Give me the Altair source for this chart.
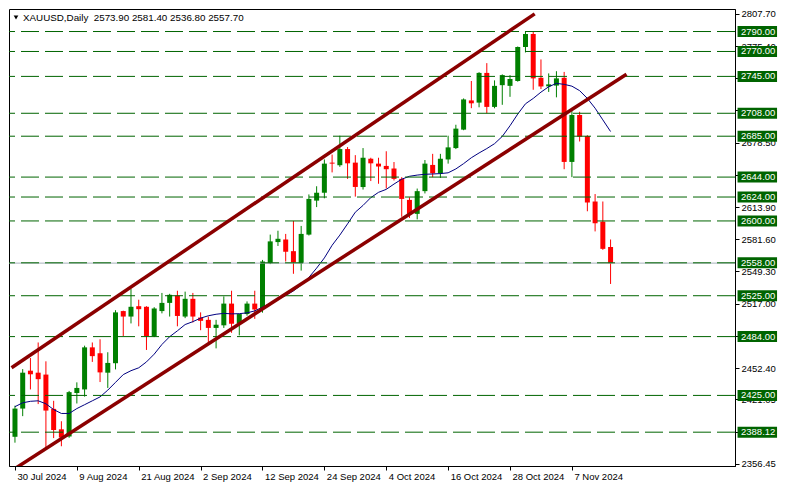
import altair as alt
import pandas as pd

# ---------------- data ----------------
opens = [2383.5, 2411.8, 2449.8, 2447.8, 2445.9, 2411.5, 2391.0, 2383.8, 2427.4, 2431.0,
         2473.2, 2467.3, 2447.8, 2457.3, 2509.6, 2504.1, 2514.5, 2513.9, 2484.6, 2509.6,
         2517.8, 2525.2, 2504.1, 2521.9, 2503.1, 2500.8, 2492.7, 2495.3, 2517.1, 2497.6,
         2506.6, 2517.1, 2511.9, 2557.7, 2578.8, 2581.4, 2569.7, 2557.7, 2586.3, 2620.4,
         2628.3, 2658.5, 2655.9, 2672.1, 2658.5, 2634.0, 2662.4, 2657.5, 2655.2, 2652.6,
         2642.2, 2621.1, 2607.1, 2629.9, 2656.2, 2647.8, 2661.7, 2673.1, 2691.6, 2720.9,
         2718.7, 2748.5, 2714.4, 2736.2, 2735.5, 2740.4, 2774.5, 2787.5, 2743.6, 2735.0,
         2735.8, 2743.6, 2659.2, 2706.3, 2685.1, 2619.5, 2599.3, 2573.9]
highs = [2414.7, 2451.4, 2462.5, 2478.1, 2459.2, 2419.6, 2399.1, 2429.5, 2438.1, 2474.9,
         2478.1, 2481.3, 2468.3, 2510.5, 2510.0, 2531.7, 2521.0, 2514.5, 2513.5, 2527.8,
         2526.9, 2530.0, 2529.1, 2527.8, 2508.3, 2504.1, 2500.8, 2524.3, 2530.0, 2506.6,
         2519.3, 2530.0, 2560.9, 2586.3, 2590.2, 2587.0, 2600.0, 2595.0, 2626.6, 2634.8,
         2661.7, 2666.6, 2685.5, 2674.1, 2666.0, 2673.1, 2663.4, 2663.4, 2669.9, 2659.1,
         2643.9, 2623.7, 2632.5, 2661.1, 2667.3, 2667.3, 2685.5, 2696.5, 2722.9, 2740.4,
         2749.2, 2758.3, 2741.0, 2747.0, 2746.3, 2775.0, 2790.1, 2790.0, 2762.0, 2748.0,
         2750.2, 2749.5, 2710.2, 2709.5, 2686.0, 2627.0, 2619.5, 2581.4]
lows = [2377.6, 2404.2, 2431.0, 2416.3, 2370.8, 2382.2, 2374.0, 2382.5, 2416.9, 2423.8,
        2458.6, 2438.4, 2432.5, 2451.1, 2484.6, 2497.2, 2494.3, 2470.6, 2483.5, 2507.3,
        2504.1, 2494.3, 2502.5, 2498.2, 2490.4, 2476.4, 2472.2, 2492.7, 2487.8, 2485.2,
        2505.0, 2501.8, 2508.0, 2556.7, 2574.9, 2559.3, 2547.0, 2550.2, 2585.4, 2613.9,
        2622.7, 2648.7, 2654.3, 2642.2, 2624.4, 2631.5, 2640.0, 2637.3, 2632.5, 2640.6,
        2604.2, 2603.0, 2601.6, 2627.6, 2643.9, 2643.2, 2657.5, 2672.1, 2691.0, 2713.1,
        2714.0, 2708.0, 2713.0, 2716.5, 2724.5, 2739.7, 2769.0, 2731.6, 2732.3, 2729.4,
        2724.0, 2651.9, 2643.9, 2679.7, 2609.7, 2589.5, 2571.0, 2536.8]
closes = [2411.8, 2447.8, 2446.2, 2441.3, 2409.8, 2390.3, 2382.8, 2428.3, 2432.5, 2473.2,
          2464.4, 2448.1, 2457.6, 2508.3, 2504.1, 2513.9, 2511.5, 2484.6, 2512.2, 2517.8,
          2525.9, 2504.7, 2521.9, 2504.1, 2499.8, 2492.7, 2495.9, 2517.1, 2496.9, 2506.6,
          2517.1, 2511.2, 2559.3, 2579.5, 2582.1, 2569.1, 2558.4, 2587.0, 2622.1, 2628.3,
          2657.5, 2657.5, 2672.1, 2657.8, 2634.1, 2663.4, 2657.8, 2654.6, 2651.9, 2642.2,
          2622.1, 2607.1, 2629.9, 2657.5, 2647.8, 2662.4, 2673.8, 2692.6, 2721.9, 2718.0,
          2748.5, 2714.4, 2735.5, 2746.3, 2742.4, 2774.5, 2787.5, 2743.0, 2734.9, 2737.0,
          2743.0, 2659.2, 2706.3, 2684.5, 2618.5, 2597.7, 2572.0, 2557.7]
ma = [2413.7, 2417.6, 2419.1, 2419.6, 2416.6, 2410.8, 2406.9, 2406.9, 2411.8, 2415.7,
      2419.6, 2423.5, 2430.3, 2438.1, 2445.9, 2449.8, 2452.7, 2458.6, 2466.4, 2476.1,
      2483.9, 2489.8, 2496.1, 2499.0, 2502.5, 2504.9, 2506.4, 2507.3, 2506.8, 2507.0,
      2507.8, 2509.8, 2513.5, 2517.4, 2521.3, 2525.2, 2529.8, 2535.6, 2543.4, 2552.7,
      2562.9, 2575.6, 2585.8, 2597.1, 2608.8, 2615.6, 2623.4, 2628.7, 2631.7, 2637.0,
      2641.9, 2644.8, 2646.0, 2646.8, 2647.1, 2647.5, 2648.3, 2652.2, 2657.5, 2663.4,
      2668.2, 2672.6, 2677.5, 2684.8, 2695.5, 2707.2, 2717.5, 2722.9, 2729.2, 2734.6,
      2738.0, 2737.0, 2735.2, 2730.7, 2722.9, 2713.1, 2701.4, 2689.7]

levels = [2790.00, 2770.00, 2745.00, 2708.00, 2685.00, 2644.00, 2624.00, 2600.00,
          2558.00, 2525.00, 2484.00, 2425.00, 2388.12]
price_ticks = [2807.70, 2775.40, 2743.10, 2710.80, 2678.50, 2646.20, 2613.90, 2581.60,
               2549.30, 2517.00, 2484.70, 2452.40, 2421.05, 2388.75, 2356.45]
# tick labels that sit fully behind a level box in the reference
hidden_ticks = [2743.10, 2710.80, 2646.20, 2484.70, 2388.75]
date_tick_pos = [0, 8, 16, 24, 32, 40, 48, 56, 64, 72]
date_tick_labels = ["30 Jul 2024", "9 Aug 2024", "21 Aug 2024", "2 Sep 2024", "12 Sep 2024",
                    "24 Sep 2024", "4 Oct 2024", "16 Oct 2024", "28 Oct 2024", "7 Nov 2024"]
channel_upper_idx = [-0.44, 67.19]
channel_upper_price = [2452.7, 2807.7]
channel_lower_idx = [-0.06, 79.06]
channel_lower_price = [2351.3, 2747.2]
symbol = "XAUUSD,Daily"

# ---------------- build ----------------
W, H = 726, 457
FONT = "Liberation Sans"
n = len(opens)
df = pd.DataFrame({
    "idx": list(range(n)), "open": opens, "high": highs, "low": lows, "close": closes, "ma": ma,
})
df["dir"] = ["up" if c >= o else "down" for o, c in zip(opens, closes)]

xs = alt.Scale(domain=[-0.125, 92.44], nice=False, zero=False)
ys = alt.Scale(domain=[2354.2, 2812.6], nice=False, zero=False)
col = alt.Color("dir:N", scale=alt.Scale(domain=["up", "down"], range=["#008000", "#ff0000"]), legend=None)

label_js = "[" + ",".join("'" + s + "'" for s in date_tick_labels) + "][round(datum.value/8)]"
hidden_js = "indexof([" + ",".join(f"{v:.2f}" for v in hidden_ticks) + "], round(datum.value*100)/100) >= 0"
y_label_js = f"{hidden_js} ? '' : format(datum.value, '.2f')"

x_axis = alt.Axis(values=date_tick_pos, labelExpr=label_js, orient="bottom", tickSize=4,
                  labelAlign="left", labelBaseline="top", labelPadding=1, labelOffset=2,
                  grid=False, title=None, domainColor="black", tickColor="black",
                  labelColor="black", labelFont=FONT, labelFontSize=9.5,
                  labelOverlap=False, labelFlush=False)
y_axis = alt.Axis(values=price_ticks, labelExpr=y_label_js, orient="right", tickSize=4,
                  labelPadding=2, grid=False, title=None, domainColor="black", tickColor="black",
                  labelColor="black", labelFont=FONT, labelFontSize=9.5,
                  labelOverlap=False, labelFlush=False)


def X(field):
    return alt.X(field, scale=xs, axis=x_axis)


def Y(field):
    return alt.Y(field, scale=ys, axis=y_axis)


base = alt.Chart(df)
wicks = base.mark_rule(strokeWidth=1).encode(x=X("idx:Q"), y=Y("low:Q"), y2="high:Q", color=col)
bodies = base.mark_bar(size=5).encode(x=X("idx:Q"), y=Y("open:Q"), y2="close:Q", color=col)
ma_line = base.mark_line(color="#000080", strokeWidth=1).encode(x=X("idx:Q"), y=Y("ma:Q"))

lev_df = pd.DataFrame({"level": levels})
bid_df = pd.DataFrame({"level": [closes[-1]]})
bid_rule = alt.Chart(bid_df).mark_rule(color="#a7b2bd", strokeWidth=1).encode(y=Y("level:Q"))
lev_rules = alt.Chart(lev_df).mark_rule(color="#006400", strokeWidth=1, strokeDash=[18, 6]).encode(
    y=Y("level:Q"))

ch_df = pd.DataFrame({
    "idx": channel_upper_idx + channel_lower_idx,
    "price": channel_upper_price + channel_lower_price,
    "line": ["upper", "upper", "lower", "lower"],
})
channels = alt.Chart(ch_df).mark_line(color="#8b0000", strokeWidth=3.5, clip=True).encode(
    x=X("idx:Q"), y=Y("price:Q"), detail="line:N")

lev_boxes = alt.Chart(lev_df).mark_tick(orient="horizontal", size=39.5, thickness=11,
                                         color="#006400", opacity=1).encode(
    x=alt.value(W + 22.3), y=Y("level:Q"))
lev_text = alt.Chart(lev_df).mark_text(align="left", baseline="middle", color="white",
                                        font=FONT, fontSize=9.5).encode(
    x=alt.value(W + 6), y=Y("level:Q"), text=alt.Text("level:Q", format=".2f"))

title_str = f"{symbol}\u00a0 {opens[-1]:.2f} {highs[-1]:.2f} {lows[-1]:.2f} {closes[-1]:.2f}"
title_df = pd.DataFrame({"t": [title_str]})
title = alt.Chart(title_df).mark_text(align="left", baseline="middle", color="black",
                                      font=FONT, fontSize=9.8).encode(
    x=alt.value(14), y=alt.value(9), text="t:N")
tri = alt.Chart(title_df).mark_point(shape="triangle-down", filled=True, size=22,
                                     color="black", opacity=1).encode(
    x=alt.value(7), y=alt.value(8.5))

chart = alt.layer(
    wicks, bodies, ma_line, bid_rule, lev_rules, channels, lev_boxes, lev_text, title, tri
).properties(
    width=W, height=H,
    autosize=alt.AutoSizeParams(type="none"),
    padding={"left": 1, "top": 1, "right": 46, "bottom": 18},
    background="white",
).configure_view(stroke="black", strokeWidth=1)

chart.save("out.html", embed_options={"renderer": "svg", "actions": False})
